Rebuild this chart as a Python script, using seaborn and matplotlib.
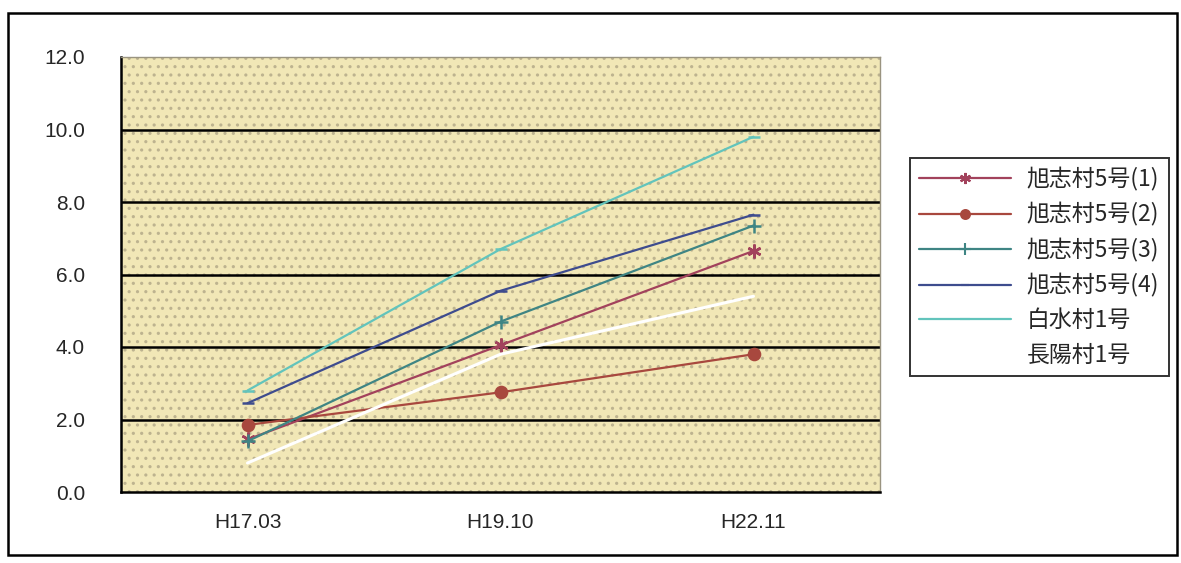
import matplotlib
matplotlib.use("Agg")
import matplotlib.pyplot as plt
from matplotlib.patches import Rectangle
from matplotlib.lines import Line2D
import seaborn as sns
import pandas as pd

# Survey periods and measured values per site
periods = ["H17.03", "H19.10", "H22.11"]
series_names = ["旭志村5号(1)", "旭志村5号(2)", "旭志村5号(3)", "旭志村5号(4)", "白水村1号", "長陽村1号"]
asahi_1 = [1.45, 4.05, 6.65]
asahi_2 = [1.85, 2.75, 3.8]
asahi_3 = [1.4, 4.7, 7.35]
asahi_4 = [2.45, 5.55, 7.65]
hakusui_1 = [2.8, 6.7, 9.8]
choyo_1 = [0.8, 3.8, 5.4]
y_ticks = [0.0, 2.0, 4.0, 6.0, 8.0, 10.0, 12.0]

values = [asahi_1, asahi_2, asahi_3, asahi_4, hakusui_1, choyo_1]
rows = []
for name, vals in zip(series_names, values):
    for i, v in enumerate(vals):
        rows.append({"site": name, "pos": i, "value": v})
df = pd.DataFrame(rows)

colors = ["#A2425C", "#A8483E", "#3F8584", "#3E4C8E", "#62C4BC", "#FFFFFF"]
markers = [(6, 2, 0), "o", "+", "_", "_", None]
msizes = [10, 8, 10, 8, 9, 0]
widths = [1.6, 1.6, 1.6, 1.6, 1.6, 2.2]

sns.set_theme(style="white")
plt.rcParams["font.family"] = ["Noto Sans CJK JP", "DejaVu Sans"]
plt.rcParams["hatch.linewidth"] = 1.1

fig = plt.figure(figsize=(11.81, 5.63), dpi=100)
fig.patch.set_facecolor("white")
ax = fig.add_axes([121 / 1181, 71 / 563, 759 / 1181, 435 / 563])

# stippled beige plot area
ax.set_facecolor("#F1E7B6")
ax.add_patch(Rectangle((0, 0), 1, 1, transform=ax.transAxes, facecolor="#F1E7B6",
                       edgecolor="#BDB38F", hatch="..", linewidth=0, zorder=0))

for y in y_ticks[1:-1]:
    ax.axhline(y, color="black", lw=1.8, zorder=1)

for name, c, m, ms, w in zip(series_names, colors, markers, msizes, widths):
    sub = df[df["site"] == name]
    sns.lineplot(data=sub, x="pos", y="value", ax=ax, color=c, lw=w,
                 marker=m, markersize=ms, markeredgewidth=1.8,
                 markeredgecolor=c, zorder=3, legend=False)

ax.set_xlim(-0.5, 2.5)
ax.set_ylim(0, 12)
ax.set_xticks(range(len(periods)))
ax.set_xticklabels(periods, family=["Liberation Sans", "DejaVu Sans"], fontsize=15)
ax.set_xticks([0.5, 1.5], minor=True)
ax.set_yticks(y_ticks)
ax.set_yticklabels([f"{t:.1f}" for t in y_ticks], family=["Liberation Sans", "DejaVu Sans"], fontsize=15)
ax.tick_params(axis="x", which="major", length=0, pad=15)
ax.tick_params(axis="x", which="minor", length=5, direction="in", color="black", width=1.2)
ax.tick_params(axis="y", length=0, pad=26)
ax.set_xlabel("")
ax.set_ylabel("")
for s in ["left", "bottom"]:
    ax.spines[s].set_color("black")
    ax.spines[s].set_linewidth(1.8)
for s in ["top", "right"]:
    ax.spines[s].set_color("#9A9480")
    ax.spines[s].set_linewidth(1.0)
    ax.spines[s].set_linestyle((0, (2, 1)))

# legend
handles = [Line2D([], [], color=c, lw=1.6, marker=m if m is not None else "",
                  markersize=ms * 0.8, markeredgewidth=1.5, markeredgecolor=c)
           for c, m, ms in zip(colors, markers, msizes)]
leg = fig.legend(handles, series_names, loc="upper left",
                 bbox_to_anchor=(910 / 1181, 1 - 158 / 563),
                 frameon=True, fancybox=False, fontsize=16.5,
                 handlelength=4.0, labelspacing=0.5, borderpad=0.4,
                 handletextpad=0.7, borderaxespad=0)
leg.get_frame().set_edgecolor("black")
leg.get_frame().set_linewidth(1.4)

# outer chart frame
fig.add_artist(Rectangle((8 / 1181, 8 / 563), 1169 / 1181, 542 / 563,
                         transform=fig.transFigure, fill=False,
                         edgecolor="black", linewidth=1.8))

fig.savefig("out.png", dpi=100, facecolor="white")
